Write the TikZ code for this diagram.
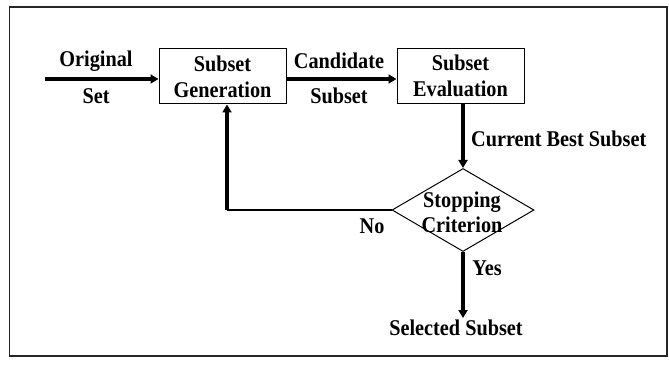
\documentclass[tikz,border=0pt]{standalone}
\usepackage{fontspec}
\setmainfont{Liberation Serif}[FakeStretch=0.9]
\usetikzlibrary{shapes.geometric,arrows.meta}
\begin{document}
\begin{tikzpicture}[x=1pt,y=-1pt,
  every node/.style={font=\fontsize{22.5}{26}\selectfont\bfseries, inner sep=0pt},
  boxnode/.style={draw, line width=1pt, minimum width=127pt, minimum height=55pt, align=center},
  lbl/.style={align=center},
  flow/.style={line width=3.2pt, -{Triangle[length=8pt,width=9pt]}},
  thinline/.style={line width=1.5pt}]
\useasboundingbox (0,0) rectangle (669,366);
\draw[line width=1.4pt, black!85] (9.5,7) rectangle (667,356);
\node[boxnode] (gen) at (222.5,76.5) {Subset\\[0pt]Generation};
\node[boxnode] (eval) at (460.5,76) {Subset\\[0pt]Evaluation};
\node[draw, diamond, line width=1pt, minimum width=142pt, minimum height=83pt] (crit) at (463,210) {};
\node[lbl] (critlbl) at (462,212) {Stopping\\[-1pt]Criterion};
\node[lbl] (orig) at (96,61) {Original};
\node[lbl] (origset) at (96,96) {Set};
\node[lbl] (cand) at (339,61) {Candidate};
\node[lbl] (candsub) at (339,96) {Subset};
\node[anchor=west] (cbs) at (471,139) {Current Best Subset};
\node (no) at (372,226) {No};
\node (yes) at (487,268) {Yes};
\node (sel) at (456,328) {Selected Subset};
\coordinate (in) at (45,79);
\coordinate (fb) at (227,210);
\coordinate (selend) at (463,318);
\draw[flow] (in) -- (in -| gen.west);
\draw[flow] (gen.east |- in) -- (eval.west |- in);
\draw[flow] (eval.south -| crit.north) -- (crit.north);
\draw[thinline] (crit.west) -- (fb);
\draw[flow] (fb) -- (fb |- gen.south);
\draw[flow] (crit.south) -- (selend);
\end{tikzpicture}
\end{document}
